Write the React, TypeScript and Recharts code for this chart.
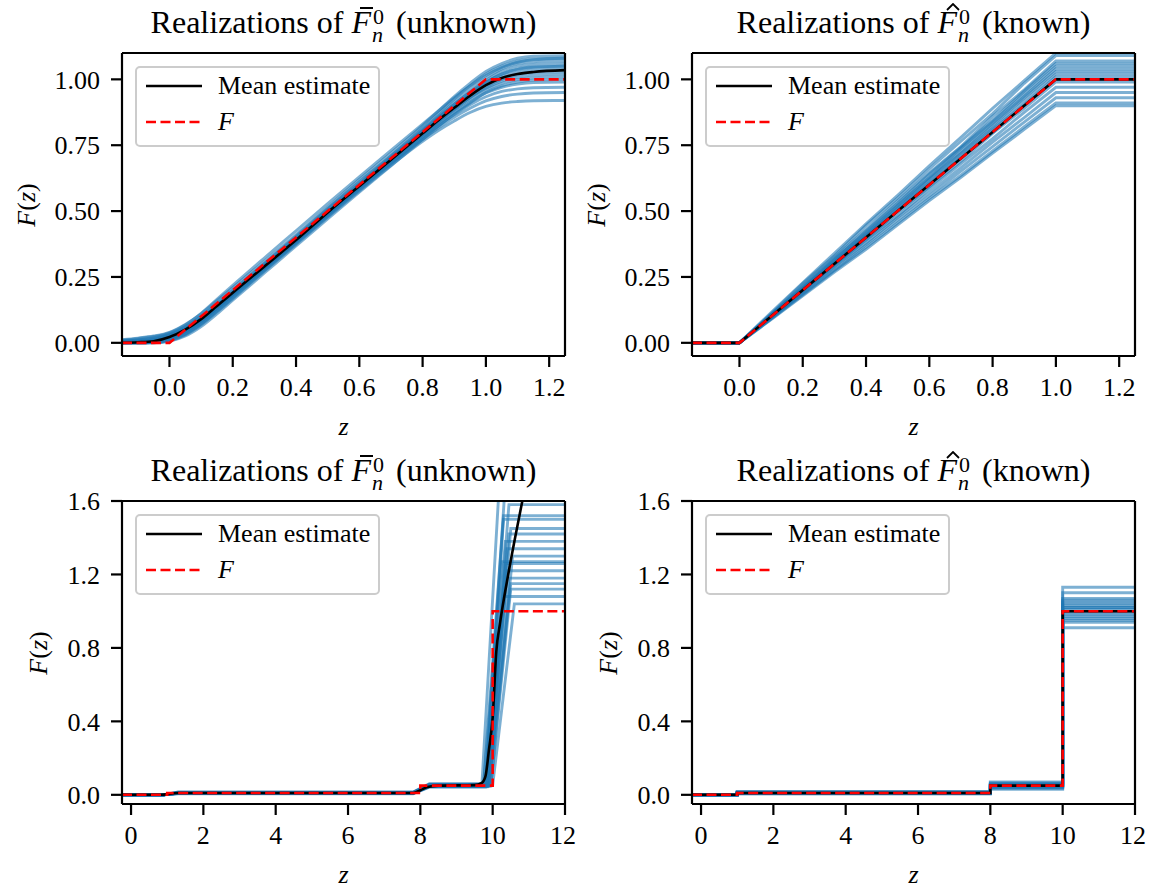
import React from 'react';
import { LineChart, Line, XAxis, YAxis, ReferenceLine } from 'recharts';

const BLUE = '#1f77b4';
const SERIF = '"Liberation Serif", "DejaVu Serif", serif';

// ---- top row (z in [-0.15, 1.25]) ----
const topXTicks = [0, 0.2, 0.4, 0.6, 0.8, 1.0, 1.2];
const topYTicks = [0, 0.25, 0.5, 0.75, 1.0];

const fTopZ = [-0.15, 0, 1, 1.25];
const fTopY = [0, 0, 1, 1];

// smoothed estimator, unknown support
const tlZ = [-0.15, -0.1, -0.05, 0, 0.05, 0.1, 0.15, 0.2, 0.3, 0.4, 0.5, 0.6, 0.7, 0.8, 0.85, 0.9, 0.95, 1.0, 1.05, 1.1, 1.15, 1.25];
const tlMean = [0, 0.002, 0.006, 0.022, 0.05, 0.09, 0.14, 0.19, 0.29, 0.39, 0.495, 0.595, 0.695, 0.795, 0.845, 0.892, 0.938, 0.978, 1.005, 1.02, 1.028, 1.035];
const tlReal = [
  [0.012, 0.018, 0.026, 0.04, 0.07, 0.11, 0.16, 0.21, 0.31, 0.41, 0.515, 0.62, 0.72, 0.825, 0.88, 0.935, 0.985, 1.03, 1.06, 1.08, 1.088, 1.09],
  [0.008, 0.012, 0.02, 0.035, 0.062, 0.1, 0.15, 0.2, 0.302, 0.405, 0.51, 0.612, 0.71, 0.815, 0.87, 0.925, 0.975, 1.02, 1.05, 1.07, 1.078, 1.08],
  [0.004, 0.008, 0.014, 0.03, 0.058, 0.098, 0.146, 0.196, 0.298, 0.4, 0.506, 0.605, 0.708, 0.81, 0.862, 0.915, 0.962, 1.005, 1.04, 1.06, 1.067, 1.07],
  [0.002, 0.006, 0.012, 0.028, 0.055, 0.094, 0.142, 0.192, 0.295, 0.396, 0.5, 0.603, 0.704, 0.805, 0.855, 0.905, 0.952, 0.995, 1.03, 1.05, 1.057, 1.06],
  [0, 0.003, 0.009, 0.024, 0.052, 0.092, 0.141, 0.19, 0.29, 0.392, 0.497, 0.598, 0.7, 0.8, 0.852, 0.9, 0.946, 0.988, 1.02, 1.04, 1.047, 1.05],
  [0.006, 0.01, 0.016, 0.03, 0.054, 0.09, 0.137, 0.186, 0.288, 0.39, 0.494, 0.597, 0.698, 0.803, 0.856, 0.906, 0.95, 0.99, 1.02, 1.038, 1.046, 1.05],
  [0, 0.002, 0.005, 0.02, 0.048, 0.088, 0.138, 0.188, 0.289, 0.388, 0.492, 0.594, 0.694, 0.797, 0.848, 0.896, 0.94, 0.98, 1.01, 1.028, 1.036, 1.04],
  [0, 0, 0.003, 0.016, 0.042, 0.082, 0.132, 0.183, 0.285, 0.386, 0.49, 0.592, 0.692, 0.79, 0.84, 0.887, 0.932, 0.972, 1.0, 1.018, 1.026, 1.03],
  [0.003, 0.005, 0.01, 0.022, 0.047, 0.085, 0.134, 0.186, 0.287, 0.389, 0.493, 0.595, 0.693, 0.792, 0.842, 0.888, 0.93, 0.966, 0.993, 1.008, 1.016, 1.02],
  [0, 0, 0.002, 0.014, 0.04, 0.08, 0.13, 0.181, 0.283, 0.385, 0.488, 0.59, 0.69, 0.788, 0.836, 0.882, 0.924, 0.96, 0.985, 0.999, 1.006, 1.01],
  [0, 0.001, 0.004, 0.017, 0.043, 0.083, 0.132, 0.182, 0.284, 0.384, 0.487, 0.588, 0.686, 0.782, 0.83, 0.874, 0.914, 0.948, 0.97, 0.982, 0.988, 0.99],
  [0, 0, 0.002, 0.012, 0.036, 0.074, 0.124, 0.176, 0.279, 0.381, 0.484, 0.585, 0.683, 0.778, 0.824, 0.866, 0.904, 0.934, 0.954, 0.964, 0.968, 0.97],
  [0, 0, 0.001, 0.01, 0.033, 0.072, 0.121, 0.172, 0.276, 0.378, 0.481, 0.581, 0.679, 0.772, 0.816, 0.856, 0.89, 0.918, 0.935, 0.944, 0.948, 0.95],
  [0, 0, 0, 0.008, 0.03, 0.068, 0.117, 0.168, 0.272, 0.374, 0.477, 0.577, 0.674, 0.765, 0.806, 0.842, 0.874, 0.897, 0.91, 0.916, 0.919, 0.92],
  [0.01, 0.016, 0.024, 0.038, 0.068, 0.112, 0.165, 0.218, 0.322, 0.425, 0.528, 0.63, 0.73, 0.83, 0.88, 0.93, 0.975, 1.015, 1.045, 1.065, 1.075, 1.08],
  [0, 0, 0, 0.006, 0.026, 0.062, 0.11, 0.162, 0.265, 0.368, 0.47, 0.572, 0.672, 0.772, 0.822, 0.868, 0.91, 0.95, 0.975, 0.99, 0.997, 1.0],
];

// known support
const trZ = [-0.15, 0, 0.1, 0.2, 0.3, 0.4, 0.5, 0.6, 0.7, 0.8, 0.9, 1.0, 1.25];
const trReal = [
  [0, 0, 0.11, 0.225, 0.33, 0.445, 0.55, 0.66, 0.765, 0.87, 0.985, 1.09, 1.09],
  [0, 0, 0.105, 0.215, 0.325, 0.43, 0.54, 0.645, 0.745, 0.86, 0.96, 1.07, 1.07],
  [0, 0, 0.108, 0.21, 0.315, 0.425, 0.53, 0.64, 0.742, 0.845, 0.955, 1.06, 1.06],
  [0, 0, 0.1, 0.212, 0.318, 0.418, 0.525, 0.628, 0.738, 0.84, 0.945, 1.05, 1.05],
  [0, 0, 0.106, 0.205, 0.312, 0.415, 0.52, 0.625, 0.728, 0.832, 0.935, 1.04, 1.04],
  [0, 0, 0.102, 0.207, 0.305, 0.41, 0.512, 0.62, 0.72, 0.825, 0.93, 1.03, 1.03],
  [0, 0, 0.098, 0.2, 0.306, 0.404, 0.51, 0.61, 0.716, 0.815, 0.918, 1.02, 1.02],
  [0, 0, 0.103, 0.198, 0.3, 0.406, 0.502, 0.606, 0.705, 0.81, 0.905, 1.01, 1.01],
  [0, 0, 0.097, 0.202, 0.296, 0.398, 0.5, 0.598, 0.702, 0.798, 0.902, 1.0, 1.0],
  [0, 0, 0.1, 0.195, 0.298, 0.392, 0.495, 0.592, 0.69, 0.795, 0.89, 0.99, 0.99],
  [0, 0, 0.095, 0.196, 0.29, 0.39, 0.482, 0.583, 0.68, 0.775, 0.875, 0.97, 0.97],
  [0, 0, 0.094, 0.19, 0.288, 0.378, 0.476, 0.57, 0.665, 0.762, 0.855, 0.95, 0.95],
  [0, 0, 0.092, 0.186, 0.278, 0.372, 0.466, 0.558, 0.652, 0.745, 0.838, 0.93, 0.93],
  [0, 0, 0.09, 0.182, 0.274, 0.362, 0.455, 0.548, 0.636, 0.728, 0.82, 0.91, 0.91],
  [0, 0, 0.115, 0.228, 0.34, 0.452, 0.56, 0.672, 0.78, 0.89, 0.995, 1.1, 1.1],
  [0, 0, 0.088, 0.178, 0.268, 0.355, 0.448, 0.54, 0.628, 0.72, 0.81, 0.9, 0.9],
];

// ---- bottom row (z in [-0.25, 12]) ----
const botXTicks = [0, 2, 4, 6, 8, 10, 12];
const botYTicks = [0, 0.4, 0.8, 1.2, 1.6];

const fBotZ = [-0.25, 1, 1, 8, 8, 10, 10, 12];
const fBotY = [0, 0, 0.01, 0.01, 0.05, 0.05, 1, 1];

const blMeanZ = [-0.25, 0.8, 1.3, 7.8, 8.0, 8.2, 8.5, 9.5, 9.7, 9.8, 9.9, 10.0, 10.1, 10.2, 10.43, 10.62, 10.82, 11.0, 12];
const blMeanY = [0, 0, 0.01, 0.01, 0.025, 0.043, 0.05, 0.053, 0.065, 0.1, 0.25, 0.42, 0.78, 0.93, 1.2, 1.4, 1.6, 1.78, 2.5];

// unknown support: level after z=1, level after z=8, start/end of the last rise, final level
const blLow = [0.012, 0.008, 0.015, 0.01, 0.006, 0.011, 0.009, 0.013, 0.007, 0.01, 0.014, 0.008, 0.011, 0.009, 0.01, 0.012, 0.008, 0.01];
const blMid = [0.055, 0.045, 0.06, 0.05, 0.042, 0.052, 0.048, 0.058, 0.044, 0.05, 0.056, 0.046, 0.053, 0.049, 0.05, 0.047, 0.054, 0.051];
const blRiseFrom = [9.8, 9.85, 9.75, 9.9, 9.8, 9.85, 9.95, 9.75, 9.85, 9.9, 9.95, 9.8, 10.0, 9.7, 9.8, 9.9, 9.85, 9.9];
const blRiseTo = [10.35, 10.45, 10.3, 10.5, 10.35, 10.4, 10.55, 10.25, 10.4, 10.45, 10.5, 10.3, 10.6, 10.2, 10.3, 10.45, 10.35, 10.5];
const blTop = [1.7, 1.58, 1.52, 1.45, 1.38, 1.34, 1.3, 1.27, 1.22, 1.18, 1.12, 1.08, 1.04, 1.75, 1.5, 1.42, 1.26, 1.15];

// known support: step heights
const brLow = [0.018, 0.012, 0.008, 0.015, 0.01, 0.005, 0.013, 0.009, 0.011, 0.007, 0.016, 0.01, 0.006, 0.012, 0.01, 0.012, 0.009, 0.011];
const brMid = [0.07, 0.06, 0.045, 0.055, 0.05, 0.04, 0.065, 0.048, 0.052, 0.035, 0.058, 0.05, 0.042, 0.03, 0.052, 0.05, 0.047, 0.056];
const brTop = [1.13, 1.1, 1.07, 1.05, 1.04, 1.03, 1.02, 1.01, 0.99, 0.98, 0.97, 0.96, 0.94, 0.91, 1.06, 1.0, 0.95, 1.02];

type Pt = { x: number; y: number };
const pts = (xs: number[], ys: number[]): Pt[] => xs.map((x, i) => ({ x, y: ys[i] }));

const tlLines = tlReal.map((r) => pts(tlZ, r));
const trLines = trReal.map((r) => pts(trZ, r));
const blLines = blTop.map((top, i) =>
  pts(
    [-0.25, 0.9, 1.3, 7.8, 8.25, blRiseFrom[i], blRiseTo[i], 12],
    [0, 0, blLow[i], blLow[i], blMid[i], blMid[i], top, top]
  )
);
const brLines = brTop.map((top, i) =>
  pts(fBotZ, [0, 0, brLow[i], brLow[i], brMid[i], brMid[i], top, top])
);

const CW = 576;
const CH = 444;
const tickStyle = { fill: '#000', fontSize: 26, fontFamily: SERIF };

function Symbol({ accent }: { accent: 'bar' | 'hat' }) {
  return (
    <>
      <span style={{ position: 'relative', display: 'inline-block', fontStyle: 'italic' }}>
        F
        {accent === 'bar' ? (
          <span style={{ position: 'absolute', left: 9, top: 1, width: 13, height: 2, background: '#000' }} />
        ) : (
          <svg style={{ position: 'absolute', left: 9, top: -3 }} width={14} height={8}>
            <path d="M1 7 L7 1 L13 7" fill="none" stroke="#000" strokeWidth={1.8} />
          </svg>
        )}
      </span>
      <svg width={17} height={40} style={{ verticalAlign: -12, overflow: 'visible' }}>
        <text fontFamily={SERIF} fontSize={22} fill="#000">
          <tspan x={2} y={19}>0</tspan>
          <tspan x={1} y={37} fontStyle="italic">n</tspan>
        </text>
      </svg>
    </>
  );
}

interface PanelProps {
  left: number;
  top: number;
  accent: 'bar' | 'hat';
  word: string;
  lines: Pt[][];
  realCurve: 'monotone' | 'linear';
  mean: Pt[];
  meanCurve: 'monotone' | 'linear';
  f: Pt[];
  xDomain: [number, number];
  xTicks: number[];
  xDigits: number;
  yDomain: [number, number];
  yTicks: number[];
  yDigits: number;
  yLabelX: number;
}

function Panel(p: PanelProps) {
  const plotL = 122;
  const plotT = 53;
  const plotW = 443;
  const plotH = 303;
  return (
    <div style={{ position: 'absolute', left: p.left, top: p.top, width: CW, height: CH }}>
      <LineChart width={CW} height={CH} margin={{ top: 53, right: 11, bottom: 48, left: 60 }}>
        <XAxis
          type="number"
          dataKey="x"
          domain={p.xDomain}
          ticks={p.xTicks}
          allowDataOverflow
          height={40}
          tickSize={11}
          tickMargin={11}
          tick={tickStyle}
          tickFormatter={(v: number) => v.toFixed(p.xDigits)}
          axisLine={{ stroke: '#000', strokeWidth: 2.2 }}
          tickLine={{ stroke: '#000', strokeWidth: 2.2 }}
        />
        <YAxis
          type="number"
          domain={p.yDomain}
          ticks={p.yTicks}
          allowDataOverflow
          width={62}
          tickSize={11}
          tickMargin={11}
          tick={tickStyle}
          tickFormatter={(v: number) => v.toFixed(p.yDigits)}
          axisLine={{ stroke: '#000', strokeWidth: 2.2 }}
          tickLine={{ stroke: '#000', strokeWidth: 2.2 }}
        />
        {p.lines.map((d, i) => (
          <Line
            key={i}
            data={d}
            dataKey="y"
            type={p.realCurve}
            stroke={BLUE}
            strokeOpacity={0.58}
            strokeWidth={2.9}
            dot={false}
            activeDot={false}
            isAnimationActive={false}
          />
        ))}
        <Line data={p.mean} dataKey="y" type={p.meanCurve} stroke="#000" strokeWidth={2.6} dot={false} activeDot={false} isAnimationActive={false} />
        <Line data={p.f} dataKey="y" type="linear" stroke="#ff0000" strokeWidth={2.6} strokeDasharray="10 4.5" dot={false} activeDot={false} isAnimationActive={false} />
        <ReferenceLine y={p.yDomain[1]} stroke="#000" strokeWidth={2.2} />
        <ReferenceLine x={p.xDomain[1]} stroke="#000" strokeWidth={2.2} />
      </LineChart>

      <div
        style={{
          position: 'absolute', left: plotL - 60, width: plotW + 120, top: 5, textAlign: 'center',
          fontFamily: SERIF, fontSize: 32, lineHeight: '32px', color: '#000', whiteSpace: 'nowrap',
        }}
      >
        Realizations of <Symbol accent={p.accent} /> ({p.word})
      </div>

      <div
        style={{
          position: 'absolute', left: p.yLabelX, top: plotT + plotH / 2, transform: 'translate(-50%, -50%) rotate(-90deg)',
          fontFamily: SERIF, fontSize: 26, lineHeight: '26px', whiteSpace: 'nowrap',
        }}
      >
        <i>F</i>(<i>z</i>)
      </div>

      <div
        style={{
          position: 'absolute', left: plotL, width: plotW, top: plotT + plotH + 58, textAlign: 'center',
          fontFamily: SERIF, fontSize: 26, lineHeight: '26px', fontStyle: 'italic',
        }}
      >
        z
      </div>

      <div
        style={{
          position: 'absolute', left: plotL + 13, top: plotT + 13, width: 245, height: 81, boxSizing: 'border-box',
          border: '2px solid #cccccc', borderRadius: 5, background: 'rgba(255,255,255,0.8)',
          fontFamily: SERIF, fontSize: 26, lineHeight: '26px',
        }}
      >
        <svg style={{ position: 'absolute', left: 7, top: 0 }} width={60} height={77}>
          <line x1={2} x2={58} y1={18} y2={18} stroke="#000" strokeWidth={2.6} />
          <line x1={2} x2={58} y1={54} y2={54} stroke="#ff0000" strokeWidth={2.6} strokeDasharray="10 4.5" />
        </svg>
        <div style={{ position: 'absolute', left: 81, top: 5, whiteSpace: 'nowrap' }}>Mean estimate</div>
        <div style={{ position: 'absolute', left: 81, top: 41, fontStyle: 'italic' }}>F</div>
      </div>
    </div>
  );
}

export default function App() {
  return (
    <div style={{ position: 'absolute', left: 0, top: 0, width: 1153, height: 888, background: '#fff', overflow: 'hidden' }}>
      <Panel
        left={0} top={0} accent="bar" word="unknown"
        lines={tlLines} realCurve="monotone" mean={pts(tlZ, tlMean)} meanCurve="monotone" f={pts(fTopZ, fTopY)}
        xDomain={[-0.15, 1.25]} xTicks={topXTicks} xDigits={1}
        yDomain={[-0.05, 1.1]} yTicks={topYTicks} yDigits={2} yLabelX={27}
      />
      <Panel
        left={570} top={0} accent="hat" word="known"
        lines={trLines} realCurve="linear" mean={pts(fTopZ, fTopY)} meanCurve="linear" f={pts(fTopZ, fTopY)}
        xDomain={[-0.15, 1.25]} xTicks={topXTicks} xDigits={1}
        yDomain={[-0.05, 1.1]} yTicks={topYTicks} yDigits={2} yLabelX={27}
      />
      <Panel
        left={0} top={448} accent="bar" word="unknown"
        lines={blLines} realCurve="linear" mean={pts(blMeanZ, blMeanY)} meanCurve="monotone" f={pts(fBotZ, fBotY)}
        xDomain={[-0.25, 12]} xTicks={botXTicks} xDigits={0}
        yDomain={[-0.05, 1.6]} yTicks={botYTicks} yDigits={1} yLabelX={39}
      />
      <Panel
        left={570} top={448} accent="hat" word="known"
        lines={brLines} realCurve="linear" mean={pts(fBotZ, fBotY)} meanCurve="linear" f={pts(fBotZ, fBotY)}
        xDomain={[-0.25, 12]} xTicks={botXTicks} xDigits={0}
        yDomain={[-0.05, 1.6]} yTicks={botYTicks} yDigits={1} yLabelX={39}
      />
    </div>
  );
}
